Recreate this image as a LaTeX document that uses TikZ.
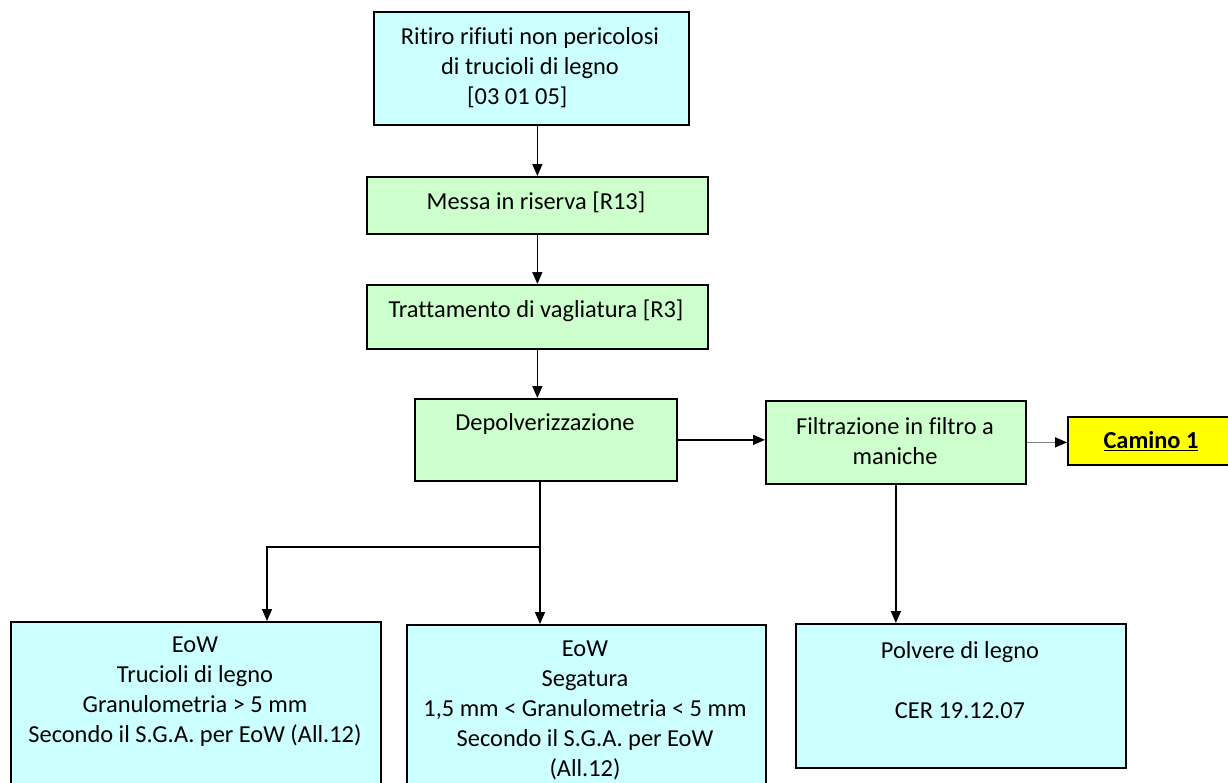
\documentclass[tikz,border=0pt]{standalone}
\usepackage{fontspec}
\setmainfont[Ligatures=NoCommon]{Carlito}
\usepackage{xcolor}
\usetikzlibrary{arrows.meta}

\definecolor{boxcyan}{RGB}{204,255,255}
\definecolor{boxgreen}{RGB}{204,255,204}
\definecolor{boxyellow}{RGB}{255,255,0}

\tikzset{
  box/.style={draw=black, line width=1.3pt, anchor=north west, inner sep=0pt},
  txt/.style={inner sep=0pt, align=center, font=\fontsize{18.3}{22.5}\selectfont},
  flow/.style={line width=1.2pt, -{Triangle[length=9pt,width=7.5pt,color=black]}}
}

\begin{document}
\begin{tikzpicture}[x=0.75pt,y=0.75pt,yscale=-1,xscale=1]
    \useasboundingbox (0,0) rectangle (1228,782);
    \clip (0,0) rectangle (1228,782);

    %Shape: boxes
    \node [box, fill=boxcyan, minimum width=236.25pt, minimum height=84.75pt] (ritiro) at (373,11) {};
    \node [box, fill=boxgreen, minimum width=255.75pt, minimum height=42.75pt] (messa) at (366,176) {};
    \node [box, fill=boxgreen, minimum width=255.75pt, minimum height=48pt] (tratt) at (366,284) {};
    \node [box, fill=boxgreen, minimum width=196.5pt, minimum height=61.5pt] (depolv) at (414,398) {};
    \node [box, fill=boxgreen, minimum width=195pt, minimum height=62.25pt] (filtr) at (765,400) {};
    \node [box, fill=boxyellow, minimum width=129.75pt, minimum height=36pt] (camino) at (1067,416) {};
    \node [box, fill=boxcyan, minimum width=277.5pt, minimum height=134.25pt] (trucioli) at (10,621) {};
    \node [box, fill=boxcyan, minimum width=269.25pt, minimum height=132pt] (segatura) at (406,624) {};
    \node [box, fill=boxcyan, minimum width=247.5pt, minimum height=108pt] (polvere) at (795,623) {};

    % Text Node
    \node [txt] (ritiro-txt) at (530,68) {Ritiro rifiuti non pericolosi\\di trucioli di legno\\{[03 01 05]}\hspace*{19pt}};
    \node [txt] (messa-txt) at (536,202) {Messa in riserva [R13]};
    \node [txt] (tratt-txt) at (536,311) {Trattamento di vagliatura [R3]};
    \node [txt] (depolv-txt) at (545,424) {Depolverizzazione};
    \node [txt] (filtr-txt) at (895,441) {Filtrazione in filtro a\\maniche};
    \node [txt] (camino-txt) at (1151,441) {\underline{\textbf{Camino 1}}};
    \node [txt] (trucioli-txt) at (195,692) {EoW\\Trucioli di legno\\Granulometria > 5 mm\\Secondo il S.G.A. per EoW (All.12)};
    \node [txt] (segatura-txt) at (585,710) {EoW\\Segatura\\1,5 mm < Granulometria < 5 mm\\Secondo il S.G.A. per EoW\\(All.12)};
    \node [txt] (polvere-txt) at (960,680) {Polvere di legno\\[22.5pt]CER 19.12.07};

    %Connectors
    \coordinate (split) at (540,547);
    \coordinate (left) at (267,547);
    \draw [flow] (messa.north |- ritiro.south) -- (messa.north);
    \draw [flow] (messa.south) -- (tratt.north);
    \draw [flow] (tratt.south) -- (tratt.south |- depolv.north);
    \draw [flow] (depolv.east) -- (depolv.east -| filtr.west);
    \draw [flow, draw=gray] (filtr.east) -- (filtr.east -| camino.west);
    \draw [line width=1.2pt] (split |- depolv.south) -- (split);
    \draw [flow] (split) -- (left) -- (left |- trucioli.north);
    \draw [flow] (split) -- (split |- segatura.north);
    \draw [flow] (filtr.south) -- (filtr.south |- polvere.north);

\end{tikzpicture}
\end{document}
